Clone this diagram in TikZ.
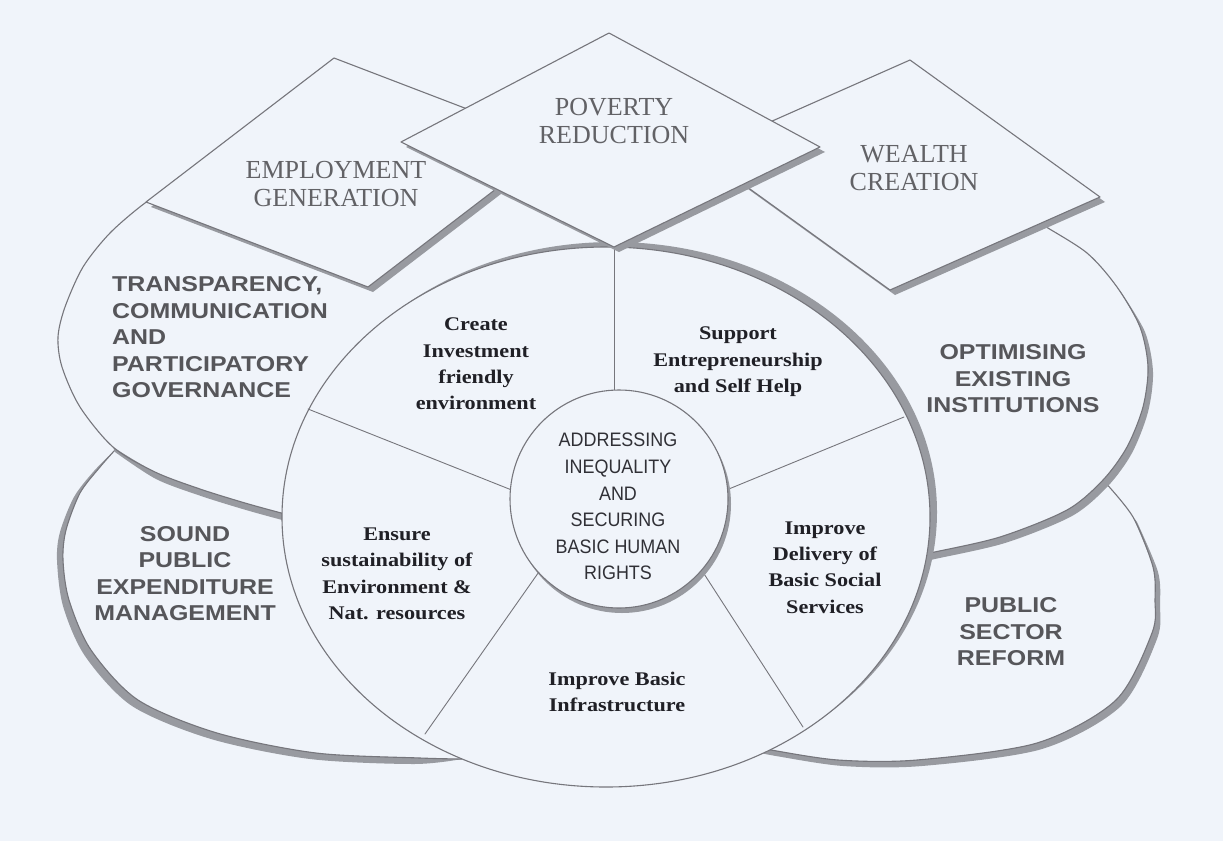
\documentclass[tikz,border=0pt]{standalone}
\usepackage{graphicx}
\usepackage{fontspec}
\setmainfont{Liberation Serif}
\newfontfamily\arialfont{Liberation Sans}
\definecolor{bgc}{RGB}{240,244,250}
\definecolor{lineg}{RGB}{118,118,124}
\definecolor{shadg}{RGB}{152,154,160}
\definecolor{dtext}{RGB}{98,98,102}
\definecolor{btext}{RGB}{86,86,90}
\definecolor{itext}{RGB}{32,32,38}
\definecolor{ctext}{RGB}{48,48,54}
\newcommand\widebox[3]{\scalebox{#1}[1]{\begin{tabular}{@{}#2@{}}#3\end{tabular}}}
\begin{document}
\begin{tikzpicture}[x=1pt,y=-1pt,line join=round,line cap=round,
  outl/.style={draw=lineg,line width=1.1pt},
  shad/.style={fill=shadg},
  spoke/.style={draw=lineg,line width=0.9pt},
  dlabel/.style={inner sep=0pt,text=dtext,font=\fontsize{26}{28}\selectfont},
  blabel/.style={inner sep=0pt,text=btext,font=\arialfont\bfseries\fontsize{21.5}{26.5}\selectfont},
  ilabel/.style={inner sep=0pt,text=itext,font=\bfseries\fontsize{19.3}{26.3}\selectfont},
  clabel/.style={inner sep=0pt,text=ctext,font=\arialfont\fontsize{19.5}{26.6}\selectfont}]
\fill[bgc] (0,0) rectangle (1223,841);
\useasboundingbox (0,0) rectangle (1223,841);

% ---- SOUND PUBLIC EXPENDITURE ellipse (lower left)
\fill[shad] plot[smooth] coordinates {(115,450) (100,467) (80,493) (66,530) (63,560) (69,600) (91,650) (138,700) (217,733) (316,753) (420,758) (462,759)}
  -- plot[smooth] coordinates {(462,759) (414,764) (310,759) (211,739) (132,706) (85,656) (63,606) (57,560) (60,532) (74,497) (94,471) (115,450)} -- cycle;
\draw[outl] plot[smooth] coordinates {(115,450) (100,467) (80,493) (66,530) (63,560) (69,600) (91,650) (138,700) (217,733) (316,753) (420,758) (462,759)};

% ---- PUBLIC SECTOR REFORM ellipse (lower right)
\fill[shad] plot[smooth] coordinates {(1133,517) (1153,567) (1155,600) (1152,633) (1116,700) (1037,743) (917,760) (838,760) (771,750) (752,746)}
  -- plot[smooth] coordinates {(757,752) (776,756) (843,766) (922,766) (1042,749) (1121,706) (1157,639) (1160,605) (1158,572) (1137,522)} -- cycle;
\draw[outl] plot[smooth] coordinates {(1103,480) (1133,517) (1153,567) (1155,600) (1152,633) (1116,700) (1037,743) (917,760) (838,760) (771,750) (752,746)};

% ---- TRANSPARENCY ellipse (upper left)
\fill[shad] plot[smooth] coordinates {(113,447) (155,472) (200,489) (245,503) (285,514) (305,519)}
  -- plot[smooth] coordinates {(306,526) (286,521) (246,510) (201,496) (156,479) (115,452)} -- cycle;
\draw[outl] plot[smooth] coordinates {(165,193) (145,203) (110,233) (83,267) (65,307) (58,337) (62,367) (80,407) (113,447) (155,472) (200,489) (245,503) (285,514) (305,519)};

% ---- OPTIMISING ellipse (upper right)
\fill[shad] plot[smooth] coordinates {(1117,287) (1140,327) (1148,367) (1143,407) (1127,447) (1103,480) (1067,510) (1000,537) (930,553) (912,557)}
  -- plot[smooth] coordinates {(917,563) (935,559) (1005,543) (1072,516) (1108,486) (1132,453) (1148,412) (1153,372) (1145,332) (1121,292)} -- cycle;
\draw[outl] plot[smooth] coordinates {(1035,219) (1043,225) (1087,253) (1117,287) (1140,327) (1148,367) (1143,407) (1127,447) (1103,480) (1067,510) (1000,537) (930,553) (912,557)};

% ---- central ellipse
\coordinate (cc) at (606,517);
\fill[shad] ([shift={(7,-5)}]cc) ellipse [x radius=324, y radius=270];
\draw[outl,fill=bgc] (cc) ellipse [x radius=324, y radius=270];

% spokes
\coordinate (povbot) at (614,247);
\coordinate (sctop) at (614,390);
\coordinate (ulo) at (308,409); \coordinate (uli) at (510.4,489.5);
\coordinate (uro) at (904,417); \coordinate (uri) at (727.6,489.5);
\coordinate (llo) at (425,734); \coordinate (lli) at (538.5,572.5);
\coordinate (lro) at (803,727); \coordinate (lri) at (701.6,570.1);
\draw[spoke] (povbot) -- (sctop);
\draw[spoke] (ulo) -- (uli);
\draw[spoke] (uro) -- (uri);
\draw[spoke] (llo) -- (lli);
\draw[spoke] (lro) -- (lri);

% small central circle
\coordinate (sc) at (619,499);
\fill[shad] ([shift={(3,5)}]sc) circle [radius=109];
\draw[outl,fill=bgc] (sc) circle [radius=109];

% ---- diamonds
\coordinate (et) at (334,58);  \coordinate (er) at (556,143);
\coordinate (eb) at (368,287); \coordinate (el) at (146,202);
\coordinate (wt) at (910,60);  \coordinate (wr) at (1100,197);
\coordinate (wb) at (890,290); \coordinate (wl) at (700,153);
\coordinate (pt) at (609,33);  \coordinate (pr) at (820,147);
\coordinate (pb) at (614,247); \coordinate (pl) at (401,142);
\fill[shad] ([shift={(5,5)}]et) -- ([shift={(5,5)}]er) -- ([shift={(5,5)}]eb) -- ([shift={(5,5)}]el) -- cycle;
\draw[outl,fill=bgc] (et) -- (er) -- (eb) -- (el) -- cycle;
\fill[shad] ([shift={(5,5)}]wt) -- ([shift={(5,5)}]wr) -- ([shift={(5,5)}]wb) -- ([shift={(5,5)}]wl) -- cycle;
\draw[outl,fill=bgc] (wt) -- (wr) -- (wb) -- (wl) -- cycle;
\fill[shad] ([shift={(5,5)}]pt) -- ([shift={(5,5)}]pr) -- ([shift={(5,5)}]pb) -- ([shift={(5,5)}]pl) -- cycle;
\draw[outl,fill=bgc] (pt) -- (pr) -- (pb) -- (pl) -- cycle;

% ---- labels
\node[dlabel] (emp) at (336,186.5) {\widebox{1}{c}{EMPLOYMENT\\GENERATION}};
\node[dlabel] (pov) at (614,124) {\widebox{1}{c}{POVERTY\\REDUCTION}};
\node[dlabel] (wea) at (914,171) {\widebox{1}{c}{WEALTH\\CREATION}};

\node[blabel,anchor=west] (trans) at (112,339.5) {\widebox{1.16}{l}{TRANSPARENCY,\\COMMUNICATION\\AND\\PARTICIPATORY\\GOVERNANCE}};
\node[blabel] (opt) at (1013,380.7) {\widebox{1.16}{c}{OPTIMISING\\EXISTING\\INSTITUTIONS}};
\node[blabel] (sound) at (185,575.7) {\widebox{1.16}{c}{SOUND\\PUBLIC\\EXPENDITURE\\MANAGEMENT}};
\node[blabel] (psr) at (1011,634) {\widebox{1.16}{c}{PUBLIC\\SECTOR\\REFORM}};

\node[ilabel] (create) at (476,365) {\widebox{1.15}{c}{Create\\Investment\\friendly\\environment}};
\node[ilabel] (support) at (738,361) {\widebox{1.15}{c}{Support\\Entrepreneurship\\and Self Help}};
\node[ilabel] (ensure) at (397,574.7) {\widebox{1.15}{c}{Ensure\\sustainability of\\Environment \&\\Nat. resources}};
\node[ilabel] (deliv) at (825,568.5) {\widebox{1.15}{c}{Improve\\Delivery of\\Basic Social\\Services}};
\node[ilabel] (infra) at (617,693) {\widebox{1.15}{c}{Improve Basic\\Infrastructure}};

\node[clabel] (core) at (618,508) {\widebox{0.92}{c}{ADDRESSING\\INEQUALITY\\AND\\SECURING\\BASIC HUMAN\\RIGHTS}};
\end{tikzpicture}
\end{document}
